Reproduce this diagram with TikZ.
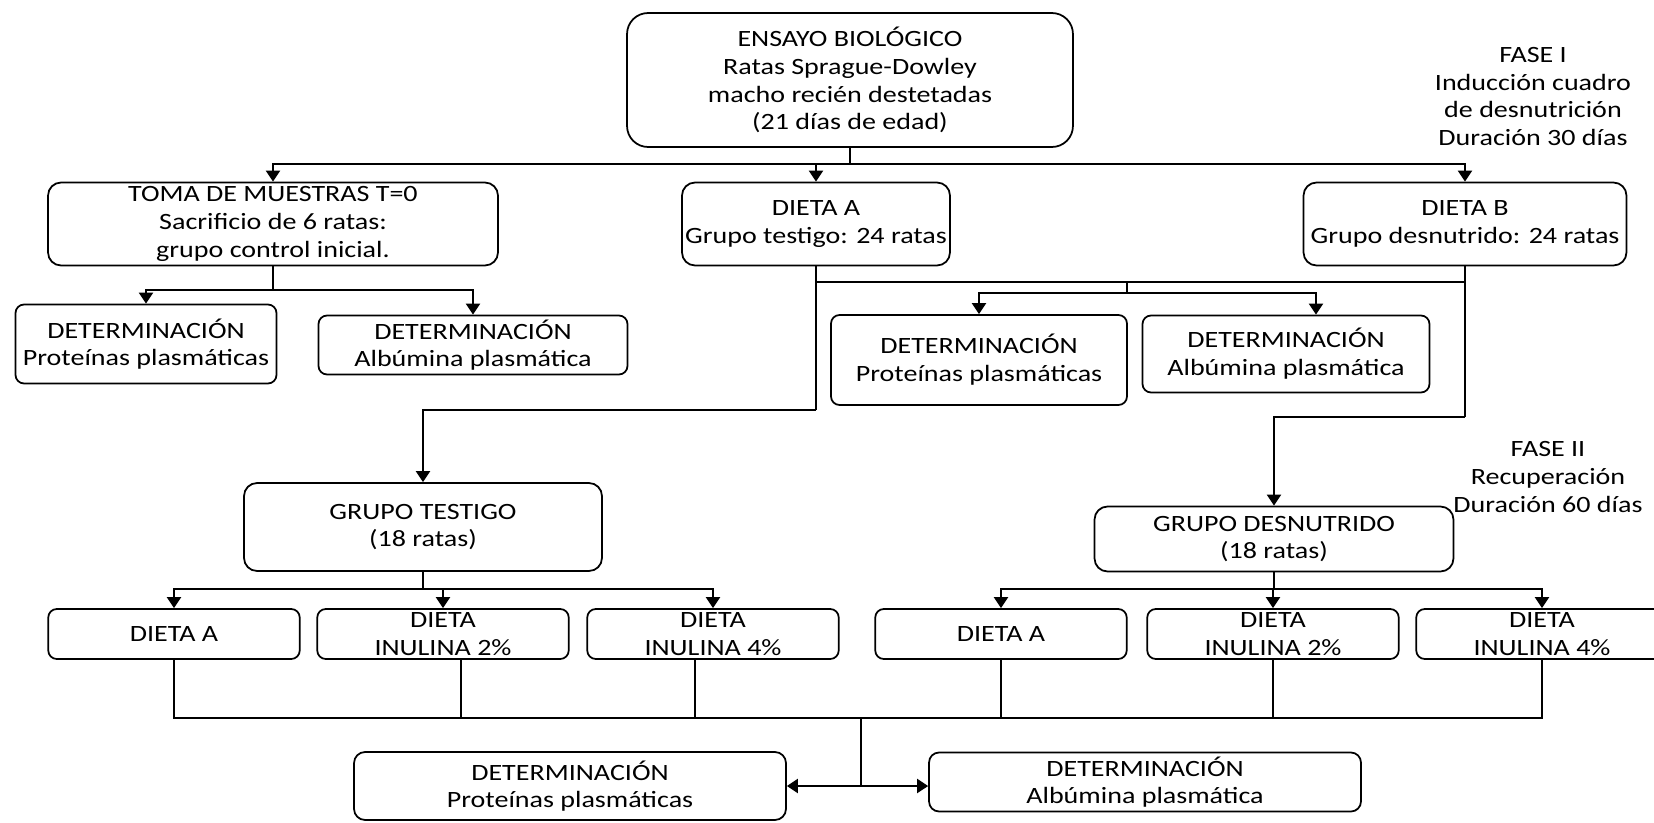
\documentclass[tikz,border=0pt]{standalone}
\usepackage{fontspec}
\setmainfont{Carlito}[FakeStretch=1.2]
\usetikzlibrary{positioning,arrows.meta}

\begin{document}
\begin{tikzpicture}[
  x=0.02cm, y=-0.02cm,
  every node/.style={font=\fontsize{13.3}{15.8}\selectfont},
  box/.style={
    draw, line width=1pt, rounded corners=0.17cm,
    align=center, inner sep=0pt
  },
  bigbox/.style={box, rounded corners=0.42cm},
  midbox/.style={box, rounded corners=0.26cm},
  dietbox/.style={box, minimum width=5.03cm, minimum height=1cm},
  fase/.style={align=center},
  line/.style={line width=1.2pt},
  arr/.style={line, -{Triangle[length=0.22cm,width=0.28cm]}}
]
\useasboundingbox (0,0) rectangle (1654,822);

% Phase I boxes
\node[bigbox, minimum width=8.92cm, minimum height=2.68cm] (ensayo) at (850,80)
  {ENSAYO BIOLÓGICO\\Ratas Sprague-Dowley\\macho recién destetadas\\(21 días de edad)};
\node[midbox, minimum width=9cm, minimum height=1.66cm] (toma) at (273,224)
  {TOMA DE MUESTRAS T=0\\Sacrificio de 6 ratas:\\grupo control inicial.};
\node[midbox, minimum width=5.36cm, minimum height=1.66cm] (dietaA) at (816,224)
  {DIETA A\\Grupo testigo: 24 ratas};
\node[midbox, minimum width=6.46cm, minimum height=1.66cm] (dietaB) at (1465,224)
  {DIETA B\\Grupo desnutrido: 24 ratas};
\node[fase] (fase1) at (1533,96.5)
  {FASE I\\Inducción cuadro\\de desnutrición\\Duración 30 días};

% Determinations after phase I
\node[box, minimum width=5.22cm, minimum height=1.58cm] (det1) at (146,344)
  {DETERMINACIÓN\\Proteínas plasmáticas};
\node[box, minimum width=6.18cm, minimum height=1.18cm] (det2) at (473,345)
  {DETERMINACIÓN\\Albúmina plasmática};
\node[box, minimum width=5.92cm, minimum height=1.8cm] (det3) at (979,360)
  {DETERMINACIÓN\\Proteínas plasmáticas};
\node[box, minimum width=5.74cm, minimum height=1.54cm] (det4) at (1286,354)
  {DETERMINACIÓN\\Albúmina plasmática};

% Phase II groups
\node[midbox, minimum width=7.16cm, minimum height=1.76cm] (testigo) at (423,527)
  {GRUPO TESTIGO\\(18 ratas)};
\node[midbox, minimum width=7.18cm, minimum height=1.3cm] (desnutrido) at (1274,539)
  {GRUPO DESNUTRIDO\\(18 ratas)};
\node[fase] (fase2) at (1548,477)
  {FASE II\\Recuperación\\Duración 60 días};

% Diets
\node[dietbox] (tA) at (174,634) {DIETA A};
\node[dietbox] (t2) at (443,634) {DIETA\\INULINA 2\%};
\node[dietbox] (t4) at (713,634) {DIETA\\INULINA 4\%};
\node[dietbox] (dA) at (1001,634) {DIETA A};
\node[dietbox] (d2) at (1273,634) {DIETA\\INULINA 2\%};
\begin{scope}
  \clip (0,0) rectangle (1654,822);
  \node[dietbox] (d4) at (1542,634) {DIETA\\INULINA 4\%};
\end{scope}

% Final determinations
\node[box, rounded corners=0.22cm, minimum width=8.64cm, minimum height=1.36cm] (det5) at (570,786)
  {DETERMINACIÓN\\Proteínas plasmáticas};
\node[box, rounded corners=0.2cm, minimum width=8.64cm, minimum height=1.18cm] (det6) at (1145,782)
  {DETERMINACIÓN\\Albúmina plasmática};

% Junctions
\coordinate (j0) at (850,164);
\coordinate (j1) at (273,290);
\coordinate (j2) at (1127,282);
\coordinate (j3) at (1127,293);
\coordinate (ka) at (816,410);
\coordinate (kb) at (1465,417);
\coordinate (j4) at (423,589);
\coordinate (j5) at (1274,589);
\coordinate (j6) at (861,718);
\coordinate (j7) at (861,786);

% Connectors
\draw[line] (ensayo.south) -- (j0);
\draw[arr] (j0) -| (toma.north);
\draw[arr] (j0) -| (dietaA.north);
\draw[arr] (j0) -| (dietaB.north);

\draw[line] (toma.south) -- (j1);
\draw[arr] (j1) -| (det1.north);
\draw[arr] (j1) -| (det2.north);

\draw[line] (dietaA.south |- j2) -- (dietaB.south |- j2);
\draw[line] (j2) -- (j3);
\draw[arr] (j3) -| (det3.north);
\draw[arr] (j3) -| ([xshift=0.6cm]det4.north);

\draw[line] (dietaA.south) -- (ka);
\draw[arr] (ka) -| (testigo.north);
\draw[line] (dietaB.south) -- (kb);
\draw[arr] (kb) -| (desnutrido.north);

\draw[line] (testigo.south) -- (j4);
\draw[line] (desnutrido.south) -- (j5);
\foreach \n in {tA,t2,t4}
  \draw[arr] (j4) -| (\n.north);
\foreach \n in {dA,d2,d4}
  \draw[arr] (j5) -| (\n.north);

\foreach \n/\s in {tA/0,t2/0.36,t4/-0.36,dA/0,d2/0,d4/0}
  \draw[line] ([xshift=\s cm]\n.south) |- (j6);
\draw[line] (j6) -- (j7);
\draw[arr] (j7) -- (det5.east);
\draw[arr] (j7) -- (j7 -| det6.west);

\end{tikzpicture}
\end{document}
